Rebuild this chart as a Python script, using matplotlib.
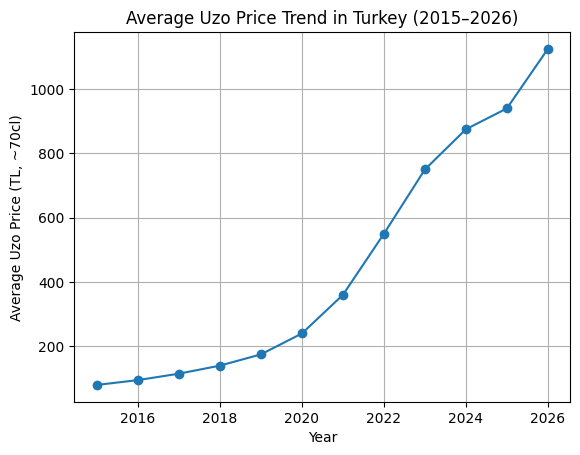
import matplotlib
matplotlib.use("Agg")
import matplotlib.pyplot as plt

years = [2015, 2016, 2017, 2018, 2019, 2020, 2021, 2022, 2023, 2024, 2025, 2026]
prices = [80, 95, 115, 140, 175, 240, 360, 550, 750, 875, 940, 1125]

fig, ax = plt.subplots(figsize=(6.4, 4.8), dpi=100)
ax.plot(years, prices, marker='o')
ax.set_title('Average Uzo Price Trend in Turkey (2015–2026)')
ax.set_xlabel('Year')
ax.set_ylabel('Average Uzo Price (TL, ~70cl)')
ax.grid(True)

fig.savefig('out.png', dpi=100, bbox_inches='tight')
